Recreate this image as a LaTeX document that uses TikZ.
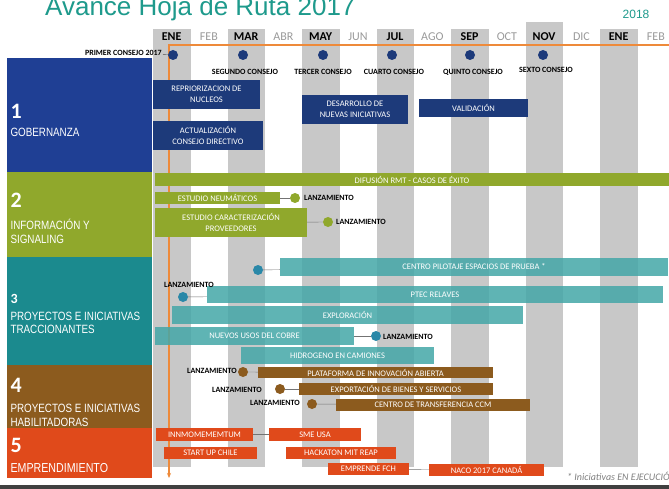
\documentclass[tikz,border=0pt]{standalone}
\usepackage{fontspec}
\setmainfont{Carlito}
\newfontfamily\titlefont{Liberation Sans}
\newfontfamily\narrowfont[FakeStretch=0.82]{Liberation Sans}
\usetikzlibrary{arrows.meta}

\definecolor{rmtteal}{HTML}{1E9A8C}
\definecolor{gobblue}{HTML}{1F3F94}
\definecolor{navybar}{HTML}{1D3A7A}
\definecolor{infogreen}{HTML}{90A82C}
\definecolor{tracteal}{HTML}{1B8A8E}
\definecolor{barteal}{HTML}{44A7A8}
\definecolor{dotteal}{HTML}{2A88A8}
\definecolor{habbrown}{HTML}{8C5B1E}
\definecolor{emporange}{HTML}{E04A1B}
\definecolor{axisorange}{HTML}{EE8A3A}
\definecolor{colgrey}{HTML}{C8C8C8}
\definecolor{monthgrey}{HTML}{9A9A9A}

\begin{document}
\begin{tikzpicture}[x=1pt,y=-1pt,
    bar/.style={inner sep=0pt,text=white,align=center,font=\fontsize{8.5}{10.5}\selectfont},
    area/.style={text=white,anchor=west,align=left,font=\narrowfont\fontsize{12}{14}\selectfont},
    areanum/.style={text=white,anchor=west,font=\bfseries\fontsize{22}{22}\selectfont}]

    \useasboundingbox (0,0) rectangle (669,489);
    \fill[white] (0,0) rectangle (669,489);

    % title
    \node[anchor=base west,inner sep=0pt,text=rmtteal,font=\titlefont\fontsize{26}{26}\selectfont] (titulo) at (45,16) {Avance Hoja de Ruta 2017};
    \node[text=rmtteal,font=\titlefont\fontsize{12}{12}\selectfont] (anio) at (636,14) {2018};

    % months
    \foreach \m/\t [count=\i from 0] in {ENE/29,MAR/29,MAY/29,JUL/29,SEP/29,NOV/22,ENE/29} {
      \fill[colgrey] ({153+74.5*\i},\t) rectangle ({190.5+74.5*\i},467);
      \node[font=\bfseries\fontsize{12}{12}\selectfont] (mon\i) at ({171.6+74.5*\i},37) {\m};
    }
    \foreach \m [count=\i from 0] in {FEB,ABR,JUN,AGO,OCT,DIC,FEB} {
      \node[font=\fontsize{12}{12}\selectfont,text=monthgrey] (moff\i) at ({208.9+74.5*\i},37) {\m};
    }

    % time axis
    \coordinate (ejeA) at (669,45);
    \coordinate (ejeB) at (169,45);
    \coordinate (ejeC) at (169,478);
    \draw[axisorange,line width=1.2pt,-{Stealth[length=5pt,width=4pt]}] (ejeA) -- (ejeB) -- (ejeC);

    % areas
    \fill[gobblue] (7,58) rectangle (152,172);
    \fill[infogreen] (7,172) rectangle (152,257);
    \fill[tracteal] (7,257) rectangle (152,365);
    \fill[habbrown] (7,365) rectangle (152,428);
    \fill[emporange] (7,428) rectangle (152,478);

    \node[areanum] (n1) at (7,111.5) {1};
    \node[area] (t1) at (7,132) {GOBERNANZA};
    \node[areanum] (n2) at (7,200.5) {2};
    \node[area] (t2) at (7,231.5) {INFORMACIÓN Y\\SIGNALING};
    \node[areanum,font=\bfseries\fontsize{14}{14}\selectfont] (n3) at (7,298.5) {3};
    \node[area,font=\narrowfont\fontsize{12}{13}\selectfont] (t3) at (7,322.5) {PROYECTOS E INICIATIVAS\\TRACCIONANTES};
    \node[areanum] (n4) at (7,385) {4};
    \node[area] (t4) at (7,415) {PROYECTOS E INICIATIVAS\\HABILITADORAS};
    \node[areanum] (n5) at (7,445.5) {5};
    \node[area,font=\narrowfont\fontsize{13}{14}\selectfont] (t5) at (7,468) {EMPRENDIMIENTO};

    % consejos
    \begin{scope}[every node/.style={circle,fill=navybar,inner sep=0pt,minimum size=10}]
      \node (c1) at (173,55) {};
      \node (c2) at (243,55) {};
      \node (c3) at (323,55) {};
      \node (c4) at (392,55) {};
      \node (c5) at (470,55) {};
      \node (c6) at (543,55) {};
    \end{scope}
    \begin{scope}[every node/.style={font=\bfseries\fontsize{8}{8}\selectfont,inner sep=1pt}]
      \node[anchor=east] (lc1) at (163,53) {PRIMER CONSEJO 2017};
      \node (lc2) at (245,72) {SEGUNDO CONSEJO};
      \node (lc3) at (323,72) {TERCER CONSEJO};
      \node (lc4) at (394,72) {CUARTO CONSEJO};
      \node (lc5) at (473,72) {QUINTO CONSEJO};
      \node (lc6) at (546,70) {SEXTO CONSEJO};
    \end{scope}
    \draw[black!70] (lc1) -- (c1);

    % gobernanza
    \begin{scope}[every node/.style={bar,fill=navybar}]
      \node[minimum width=107,minimum height=29] (repr) at (206.5,94.5) {REPRIORIZACION DE\\NUCLEOS};
      \node[minimum width=110,minimum height=29] (actu) at (208,135.5) {ACTUALIZACIÓN\\CONSEJO DIRECTIVO};
      \node[minimum width=106,minimum height=29] (desa) at (355,109.5) {DESARROLLO DE\\NUEVAS INICIATIVAS};
      \node[minimum width=109,minimum height=18] (vali) at (473.5,108) {VALIDACIÓN};
    \end{scope}

    % informacion
    \begin{scope}[every node/.style={bar,fill=infogreen}]
      \node[minimum width=514,minimum height=13] (difu) at (412,179.5) {DIFUSIÓN RMT - CASOS DE ÉXITO};
      \node[minimum width=125,minimum height=12] (neum) at (217.5,198) {ESTUDIO NEUMÁTICOS};
      \node[minimum width=152,minimum height=29] (cara) at (231,222.5) {ESTUDIO CARACTERIZACIÓN\\PROVEEDORES};
    \end{scope}

    % traccionantes
    \begin{scope}[every node/.style={bar,fill=barteal,fill opacity=0.85,text opacity=1}]
      \node[minimum width=388,minimum height=18] (pilo) at (474,267) {CENTRO PILOTAJE ESPACIOS DE PRUEBA *};
      \node[minimum width=456,minimum height=17] (ptec) at (435,294.5) {PTEC RELAVES};
      \node[minimum width=351,minimum height=18] (expl) at (347.5,315) {EXPLORACIÓN};
      \node[minimum width=199,minimum height=18] (nuev) at (254.5,336) {NUEVOS USOS DEL COBRE};
      \node[minimum width=193,minimum height=17] (hidr) at (337.5,355.5) {HIDROGENO EN CAMIONES};
    \end{scope}

    % habilitadoras
    \begin{scope}[every node/.style={bar,fill=habbrown}]
      \node[minimum width=235,minimum height=11] (plat) at (375.5,372.5) {PLATAFORMA DE INNOVACIÓN ABIERTA};
      \node[minimum width=194,minimum height=12] (expo) at (396,389) {EXPORTACIÓN DE BIENES Y SERVICIOS};
      \node[minimum width=194,minimum height=12] (ccm) at (433,405) {CENTRO DE TRANSFERENCIA CCM};
    \end{scope}

    % emprendimiento
    \begin{scope}[every node/.style={bar,fill=emporange}]
      \node[minimum width=97,minimum height=13] (innm) at (204.5,434.5) {INNMOMEMEMTUM};
      \node[minimum width=92,minimum height=13] (sme) at (315,434.5) {SME USA};
      \node[minimum width=93,minimum height=12] (star) at (210.5,453) {START UP CHILE};
      \node[minimum width=110,minimum height=12] (hack) at (341,453) {HACKATON MIT REAP};
      \node[minimum width=81,minimum height=12] (empr) at (368.5,469) {EMPRENDE FCH};
      \node[minimum width=115,minimum height=12] (naco) at (486.5,470) {NACO 2017 CANADÁ};
    \end{scope}

    % lanzamientos
    \begin{scope}[every node/.style={circle,inner sep=0pt,minimum size=10}]
      \node[fill=infogreen] (dneum) at (295,198) {};
      \node[fill=infogreen] (dcara) at (328,222) {};
      \node[fill=dotteal] (dpilo) at (258,270) {};
      \node[fill=dotteal] (dptec) at (183,297) {};
      \node[fill=dotteal] (dnuev) at (376,336) {};
      \node[fill=habbrown] (dplat) at (243,372) {};
      \node[fill=habbrown] (dexpo) at (280,389) {};
      \node[fill=habbrown] (dccm) at (312,404) {};
    \end{scope}
    \begin{scope}[every node/.style={font=\bfseries\fontsize{8}{8}\selectfont,inner sep=1pt}]
      \node[anchor=west] (lneum) at (303,198) {LANZAMIENTO};
      \node[anchor=west] (lcara) at (335,222) {LANZAMIENTO};
      \node (lptec) at (189,285) {LANZAMIENTO};
      \node[anchor=west] (lnuev) at (382,337) {LANZAMIENTO};
      \node[anchor=east] (lplat) at (238,371) {LANZAMIENTO};
      \node[anchor=east] (lexpo) at (263,390) {LANZAMIENTO};
      \node[anchor=east] (lccm) at (301,403) {LANZAMIENTO};
    \end{scope}

    \begin{scope}[every edge/.style={draw=black!55,thin}]
      \path (neum) edge (dneum);
      \path (cara) edge (dcara);
      \path (dpilo) edge (pilo);
      \path (dptec) edge (ptec);
      \path (nuev) edge (dnuev);
      \path (dplat) edge (plat);
      \path (dexpo) edge (expo);
      \path (dccm) edge (ccm);
      \path (innm) edge (sme);
      \path (empr) edge (naco);
    \end{scope}

    % nota
    \node[anchor=base west,inner sep=0pt,text=black!50,font=\itshape\fontsize{10}{10}\selectfont] (nota) at (567,480) {* Iniciativas EN EJECUCIÓN};
    \fill[black!75] (0,485) rectangle (669,489);
\end{tikzpicture}
\end{document}
